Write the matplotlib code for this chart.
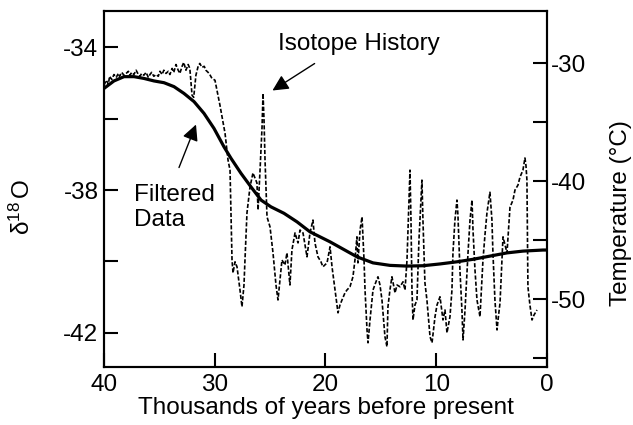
import matplotlib
matplotlib.use("Agg")
import matplotlib.pyplot as plt
from matplotlib.ticker import FixedLocator

plt.rcParams['font.family'] = ['Liberation Sans', 'DejaVu Sans']
plt.rcParams['mathtext.fontset'] = 'custom'
plt.rcParams['mathtext.rm'] = 'Liberation Sans'
plt.rcParams['mathtext.it'] = 'Liberation Sans'

# ---- data: isotope history (thousands of years BP, delta 18O) ----
iso_ky = [40.0, 39.8, 39.6, 39.5, 39.3, 39.1, 38.9, 38.7, 38.6, 38.4, 38.2, 38.0, 37.8, 37.65, 37.5,
          37.3, 37.1, 36.9, 36.75, 36.6, 36.4, 36.2, 36.0, 35.85, 35.7, 35.5, 35.3, 35.1, 34.95, 34.75,
          34.6, 34.4, 34.2, 34.05, 33.85, 33.7, 33.5, 33.3, 33.15, 32.95, 32.8, 32.6, 32.4, 32.25, 32.05,
          31.9, 31.7, 31.5, 31.35, 31.15, 30.95, 30.8, 30.6, 30.45, 30.25,
          29.98, 29.53, 29.07, 28.80, 28.62, 28.53, 28.44, 28.35, 28.17, 27.99, 27.72, 27.54, 27.36,
          27.27, 27.09, 26.82, 26.55, 26.37, 26.19, 26.09, 25.91, 25.73, 25.64, 25.55, 25.46, 25.28,
          25.01, 24.74, 24.47, 24.29, 24.11, 23.93, 23.66, 23.48,
          23.21, 23.03, 22.75, 22.48, 22.30, 22.03, 21.85, 21.67, 21.40, 21.13, 20.95, 20.68, 20.41,
          20.23, 19.86, 19.59, 19.41, 19.14, 18.87, 18.69, 18.51, 18.24, 18.06, 17.79, 17.52, 17.34,
          17.16, 17.07, 16.88, 16.70, 16.52, 16.43, 16.25,
          16.16, 15.98, 15.71, 15.44, 15.26, 15.08, 14.90, 14.63, 14.45, 14.36, 14.18, 14.00, 13.72,
          13.54, 13.27, 13.00, 12.82, 12.64, 12.46, 12.37, 12.28, 12.19, 12.10, 11.92, 11.74, 11.56,
          11.29, 11.20, 11.02, 10.84, 10.56, 10.38, 10.11, 9.93,
          9.66, 9.39, 9.21, 9.03, 8.76, 8.58, 8.49, 8.31, 8.13, 8.04, 7.86, 7.68, 7.58, 7.40, 7.13,
          6.95, 6.77, 6.68, 6.50, 6.32, 6.05, 5.78, 5.60, 5.42, 5.15, 4.97, 4.88, 4.70, 4.51, 4.42,
          4.24, 3.97, 3.79, 3.61, 3.34, 3.07, 2.89, 2.62, 2.44, 2.17, 1.99, 1.90, 1.81, 1.72, 1.54,
          1.35, 1.17, 0.90]
iso_d18o = [-35.06, -34.92, -35.03, -34.81, -34.90, -34.76, -34.84, -34.73, -34.81, -34.70, -34.78,
            -34.73, -34.67, -34.78, -34.70, -34.76, -34.64, -34.76, -34.81, -34.73, -34.78, -34.70,
            -34.84, -34.76, -34.70, -34.81, -34.76, -34.81, -34.67, -34.76, -34.64, -34.73, -34.67,
            -34.76, -34.59, -34.70, -34.48, -34.64, -34.73, -34.53, -34.42, -34.64, -34.48, -34.59,
            -35.34, -35.40, -34.78, -34.53, -34.45, -34.56, -34.53, -34.64, -34.70, -34.76, -34.87,
            -34.92, -35.62, -36.41, -37.16, -37.44, -38.70, -39.96, -40.32, -40.01, -40.15, -40.80,
            -41.27, -40.66, -39.96, -38.64, -37.92, -37.52, -37.66, -37.80, -38.56, -37.44, -36.24,
            -35.29, -36.04, -37.16, -38.75, -39.03, -39.76, -40.66, -41.08, -40.52, -39.96, -40.10,
            -39.76,
            -40.66, -39.68, -39.20, -39.48, -39.12, -39.20, -39.54, -39.87, -39.20, -38.84, -39.48,
            -39.87, -40.01, -40.15, -40.04, -39.59, -40.15, -40.80, -41.44, -41.22, -41.08, -40.88,
            -40.80, -40.71, -40.43, -39.96, -39.31, -40.04, -39.12, -38.75, -39.96, -40.80, -41.92,
            -42.28, -41.64, -40.80, -40.57, -40.43, -40.66, -41.08, -42.11, -42.39, -41.27, -40.80,
            -40.43, -40.88, -40.66, -40.71, -40.57, -40.80, -39.96, -38.28, -37.44, -38.84, -40.80,
            -41.64, -41.22, -41.08, -39.40, -37.72, -38.84, -40.60, -41.08, -42.11, -42.28, -41.55,
            -41.22,
            -40.99, -41.64, -41.36, -42.00, -41.55, -40.80, -39.76, -38.84, -38.28, -38.70, -40.24,
            -41.36, -42.20, -41.36, -39.76, -38.84, -38.28, -39.12, -40.24, -41.08, -41.55, -39.96,
            -39.26, -38.64, -38.06, -38.84, -39.76, -41.08, -41.92, -41.64, -41.16, -39.31, -39.54,
            -39.76, -38.48, -38.28, -38.00, -37.86, -37.64, -37.44, -37.10, -37.30, -37.72, -40.71,
            -41.22, -41.64, -41.50, -41.36]

# ---- data: filtered curve ----
filt_ky = [40.00, 39.10, 38.19, 37.29, 36.39, 35.49, 34.58, 33.68, 32.78, 31.87, 30.97, 30.07,
           29.16, 28.53, 27.63, 26.73, 25.82, 24.92, 23.75, 22.57, 21.40, 19.59, 17.16, 15.71,
           14.18, 12.64, 11.20, 9.66, 8.13, 6.68, 5.15, 3.61, 2.17, 0.36, 0.00]
filt_d18o = [-35.15, -34.94, -34.82, -34.82, -34.87, -34.94, -34.99, -35.10, -35.29, -35.52,
             -35.85, -36.27, -36.79, -37.11, -37.53, -37.91, -38.28, -38.47, -38.65, -38.89,
             -39.17, -39.45, -39.87, -40.04, -40.11, -40.13, -40.12, -40.07, -40.01, -39.94,
             -39.85, -39.76, -39.71, -39.68, -39.68]

x_ticks = [40, 30, 20, 10, 0]
d18o_major = [-34, -38, -42]
d18o_minor = [-36, -40]
temp_major = [-30, -40, -50]
temp_minor = [-35, -45, -55]

FS = 17.5

fig = plt.figure(figsize=(6.33, 4.25), dpi=100)
ax = fig.add_axes([0.1643, 0.1372, 0.6998, 0.8369])

ax.plot(iso_ky, iso_d18o, color='black', lw=1.2, linestyle=(0, (2.5, 1.2)))
ax.plot(filt_ky, filt_d18o, color='black', lw=2.3, solid_capstyle='round',
        solid_joinstyle='round')

ax.set_xlim(40, 0)
ax.set_ylim(-42.95, -32.98)
ax.xaxis.set_major_locator(FixedLocator(x_ticks))
ax.set_xticklabels([str(v) for v in x_ticks])
ax.yaxis.set_major_locator(FixedLocator(d18o_major))
ax.yaxis.set_minor_locator(FixedLocator(d18o_minor))
ax.set_yticklabels([str(v) for v in d18o_major])

for s in ax.spines.values():
    s.set_linewidth(1.5)

ax.tick_params(axis='both', which='both', direction='in', length=10, width=1.5,
               labelsize=FS, top=False, right=False)
ax.tick_params(axis='y', pad=4)
ax.tick_params(axis='x', pad=5)

ax2 = ax.twinx()
ax2.set_ylim(-55.71, -25.57)
ax2.yaxis.set_major_locator(FixedLocator(temp_major))
ax2.yaxis.set_minor_locator(FixedLocator(temp_minor))
ax2.set_yticklabels([str(v) for v in temp_major])
ax2.tick_params(axis='y', which='both', direction='in', length=10, width=1.5,
                labelsize=FS, pad=3)
for s in ax2.spines.values():
    s.set_linewidth(1.5)

ax.set_xlabel('Thousands of years before present', fontsize=FS, labelpad=1)
fig.text(0.036, 0.513, r'$\mathregular{\delta^{18}\,O}$', rotation=90, fontsize=FS,
         ha='center', va='center')
fig.text(0.981, 0.499, 'Temperature (°C)', rotation=90, fontsize=FS, ha='center', va='center')

ax.annotate('', xy=(25.0, -35.25), xytext=(20.77, -34.41),
            arrowprops=dict(arrowstyle='-|>', color='black', lw=1.0, mutation_scale=24))
ax.text(17.0, -33.91, 'Isotope History', fontsize=FS, ha='center', va='center')

ax.annotate('', xy=(31.6, -36.09), xytext=(33.32, -37.44),
            arrowprops=dict(arrowstyle='-|>', color='black', lw=1.0, mutation_scale=24))
ax.text(37.3, -38.48, 'Filtered\nData', fontsize=FS, ha='left', va='center', linespacing=1.2)

fig.savefig('out.png', dpi=100)
